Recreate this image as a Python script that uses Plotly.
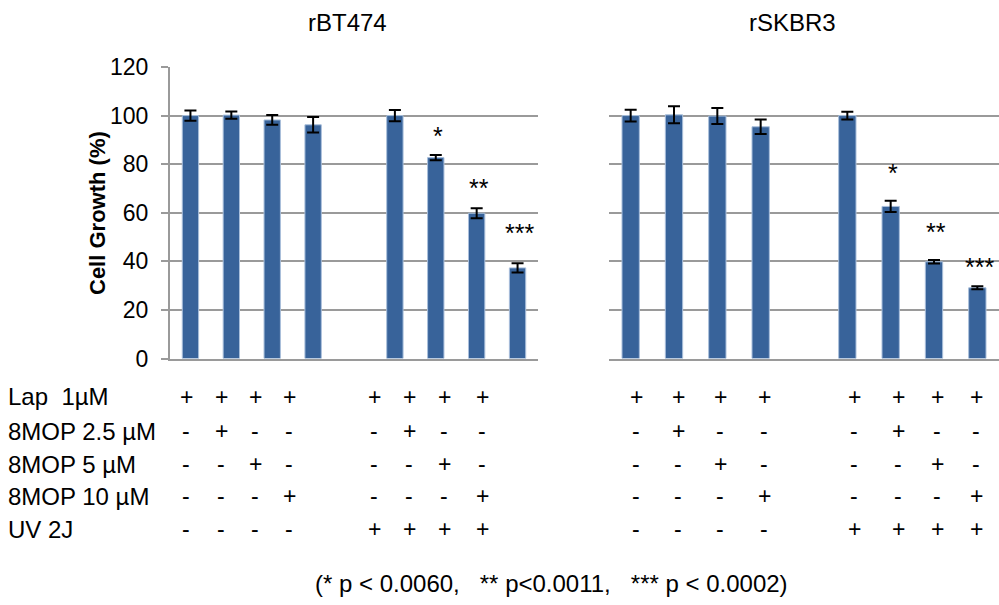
import plotly.graph_objects as go

# ---------------- data ----------------
slots = [0, 1, 2, 3, 5, 6, 7, 8]          # category slots (slot 4 is the gap)
left_means = [100.0, 100.2, 98.2, 96.2, 100.0, 82.7, 59.8, 37.3]
left_err = [2.1, 1.5, 2.0, 3.2, 2.3, 1.1, 2.1, 1.9]
right_means = [100.0, 100.3, 99.8, 95.4, 100.0, 62.6, 39.8, 29.1]
right_err = [2.4, 3.5, 3.3, 3.0, 1.6, 2.3, 0.7, 0.6]

star_slots = [6, 7, 8]
star_labels = ["*", "**", "***"]
left_star_y = [93.0, 71.3, 52.8]
right_star_y = [77.6, 53.3, 38.9]

panel_titles = ["rBT474", "rSKBR3"]
y_ticks = [0, 20, 40, 60, 80, 100, 120]

row_labels = ["Lap\u00a0\u00a01µM", "8MOP 2.5 µM", "8MOP 5 µM", "8MOP 10 µM", "UV 2J"]
table_rows = [
    ["+", "+", "+", "+", "+", "+", "+", "+"],
    ["-", "+", "-", "-", "-", "+", "-", "-"],
    ["-", "-", "+", "-", "-", "-", "+", "-"],
    ["-", "-", "-", "+", "-", "-", "-", "+"],
    ["-", "-", "-", "-", "+", "+", "+", "+"],
]
footnote = "(* p < 0.0060,\u00a0\u00a0\u00a0** p<0.0011,\u00a0\u00a0\u00a0*** p < 0.0002)"

# ---------------- layout constants ----------------
W, H = 999, 605
FONT = "Liberation Sans, Arial, sans-serif"
BAR = "#38639A"
GRID = "#9A9A9A"
FS = 23

left_cols_px = [186, 221, 255, 289, 374, 409, 444, 482]
right_cols_px = [636, 678, 720, 764, 854, 898, 937, 976]
rows_px = [397, 431, 464, 496, 529]

def px_x(p):
    return p / W

def px_y(p):
    return 1 - p / H

fig = go.Figure()

for means, errs, xa, ya in [(left_means, left_err, "x", "y"),
                            (right_means, right_err, "x2", "y2")]:
    fig.add_trace(go.Bar(
        x=slots, y=means, width=0.4,
        marker=dict(color=BAR, line=dict(color="#A9BFDB", width=1)),
        error_y=dict(type="data", array=errs, visible=True,
                     color="black", thickness=2, width=6),
        xaxis=xa, yaxis=ya, showlegend=False,
    ))

annotations = []
for xs, ys, xr, yr in [(star_slots, left_star_y, "x", "y"),
                       (star_slots, right_star_y, "x2", "y2")]:
    for sx, sy, lab in zip(xs, ys, star_labels):
        annotations.append(dict(
            x=sx + 0.05, y=sy - 1.2, xref=xr, yref=yr, text=lab, showarrow=False,
            font=dict(family=FONT, size=25, color="black"),
            xanchor="center", yanchor="middle",
        ))

# panel titles
for t, cx in zip(panel_titles, [347, 792]):
    annotations.append(dict(
        x=px_x(cx), y=px_y(23), xref="paper", yref="paper", text=t,
        showarrow=False, font=dict(family=FONT, size=24, color="black"),
        xanchor="center", yanchor="middle",
    ))

# y-axis title
annotations.append(dict(
    x=px_x(97), y=px_y(213), xref="paper", yref="paper",
    text="<b>Cell Growth (%)</b>", textangle=-90, showarrow=False,
    font=dict(family=FONT, size=22, color="black"),
    xanchor="center", yanchor="middle",
))

# treatment table
for r, (lab, row) in enumerate(zip(row_labels, table_rows)):
    annotations.append(dict(
        x=px_x(6), y=px_y(rows_px[r]), xref="paper", yref="paper", text=lab,
        showarrow=False, font=dict(family=FONT, size=24, color="black"),
        xanchor="left", yanchor="middle",
    ))
    for cols in (left_cols_px, right_cols_px):
        for c, sym in enumerate(row):
            annotations.append(dict(
                x=px_x(cols[c]), y=px_y(rows_px[r]), xref="paper", yref="paper",
                text=sym, showarrow=False,
                font=dict(family=FONT, size=FS, color="black"),
                xanchor="center", yanchor="middle",
            ))

annotations.append(dict(
    x=px_x(551), y=px_y(583), xref="paper", yref="paper", text=footnote,
    showarrow=False, font=dict(family=FONT, size=24, color="black"),
    xanchor="center", yanchor="middle",
))

y_dom = [px_y(358.5), px_y(67)]
common_x = dict(range=[-0.5, 8.5], showgrid=False, zeroline=False,
                showticklabels=False, ticks="", showline=True,
                linecolor=GRID, linewidth=2, fixedrange=True, automargin=False)

fig.update_layout(
    width=W, height=H, autosize=False,
    margin=dict(l=0, r=0, t=0, b=0, pad=0, autoexpand=False),
    paper_bgcolor="white", plot_bgcolor="white",
    bargap=0.6,
    font=dict(family=FONT, size=FS, color="black"),
    xaxis=dict(domain=[px_x(170), px_x(538)], **common_x),
    xaxis2=dict(domain=[px_x(609), 1.0], **common_x),
    yaxis=dict(domain=y_dom, range=[0, 120], tickvals=y_ticks,
               showgrid=True, gridcolor=GRID, gridwidth=2, zeroline=False,
               showline=True, linecolor=GRID, linewidth=2,
               ticks="outside", ticklen=7, tickwidth=2, tickcolor=GRID,
               ticklabelstandoff=8, automargin=False,
               tickfont=dict(family=FONT, size=FS, color="black"),
               anchor="x"),
    yaxis2=dict(domain=y_dom, range=[0, 120], tickvals=y_ticks,
                showgrid=True, gridcolor=GRID, gridwidth=2, zeroline=False,
                showline=False, showticklabels=False, ticks="",
                automargin=False, anchor="x2"),
    annotations=annotations,
)

fig.write_html(
    "out.html",
    config={"displayModeBar": False},
    post_script="document.body.style.margin='0';document.body.style.overflow='hidden';",
)
